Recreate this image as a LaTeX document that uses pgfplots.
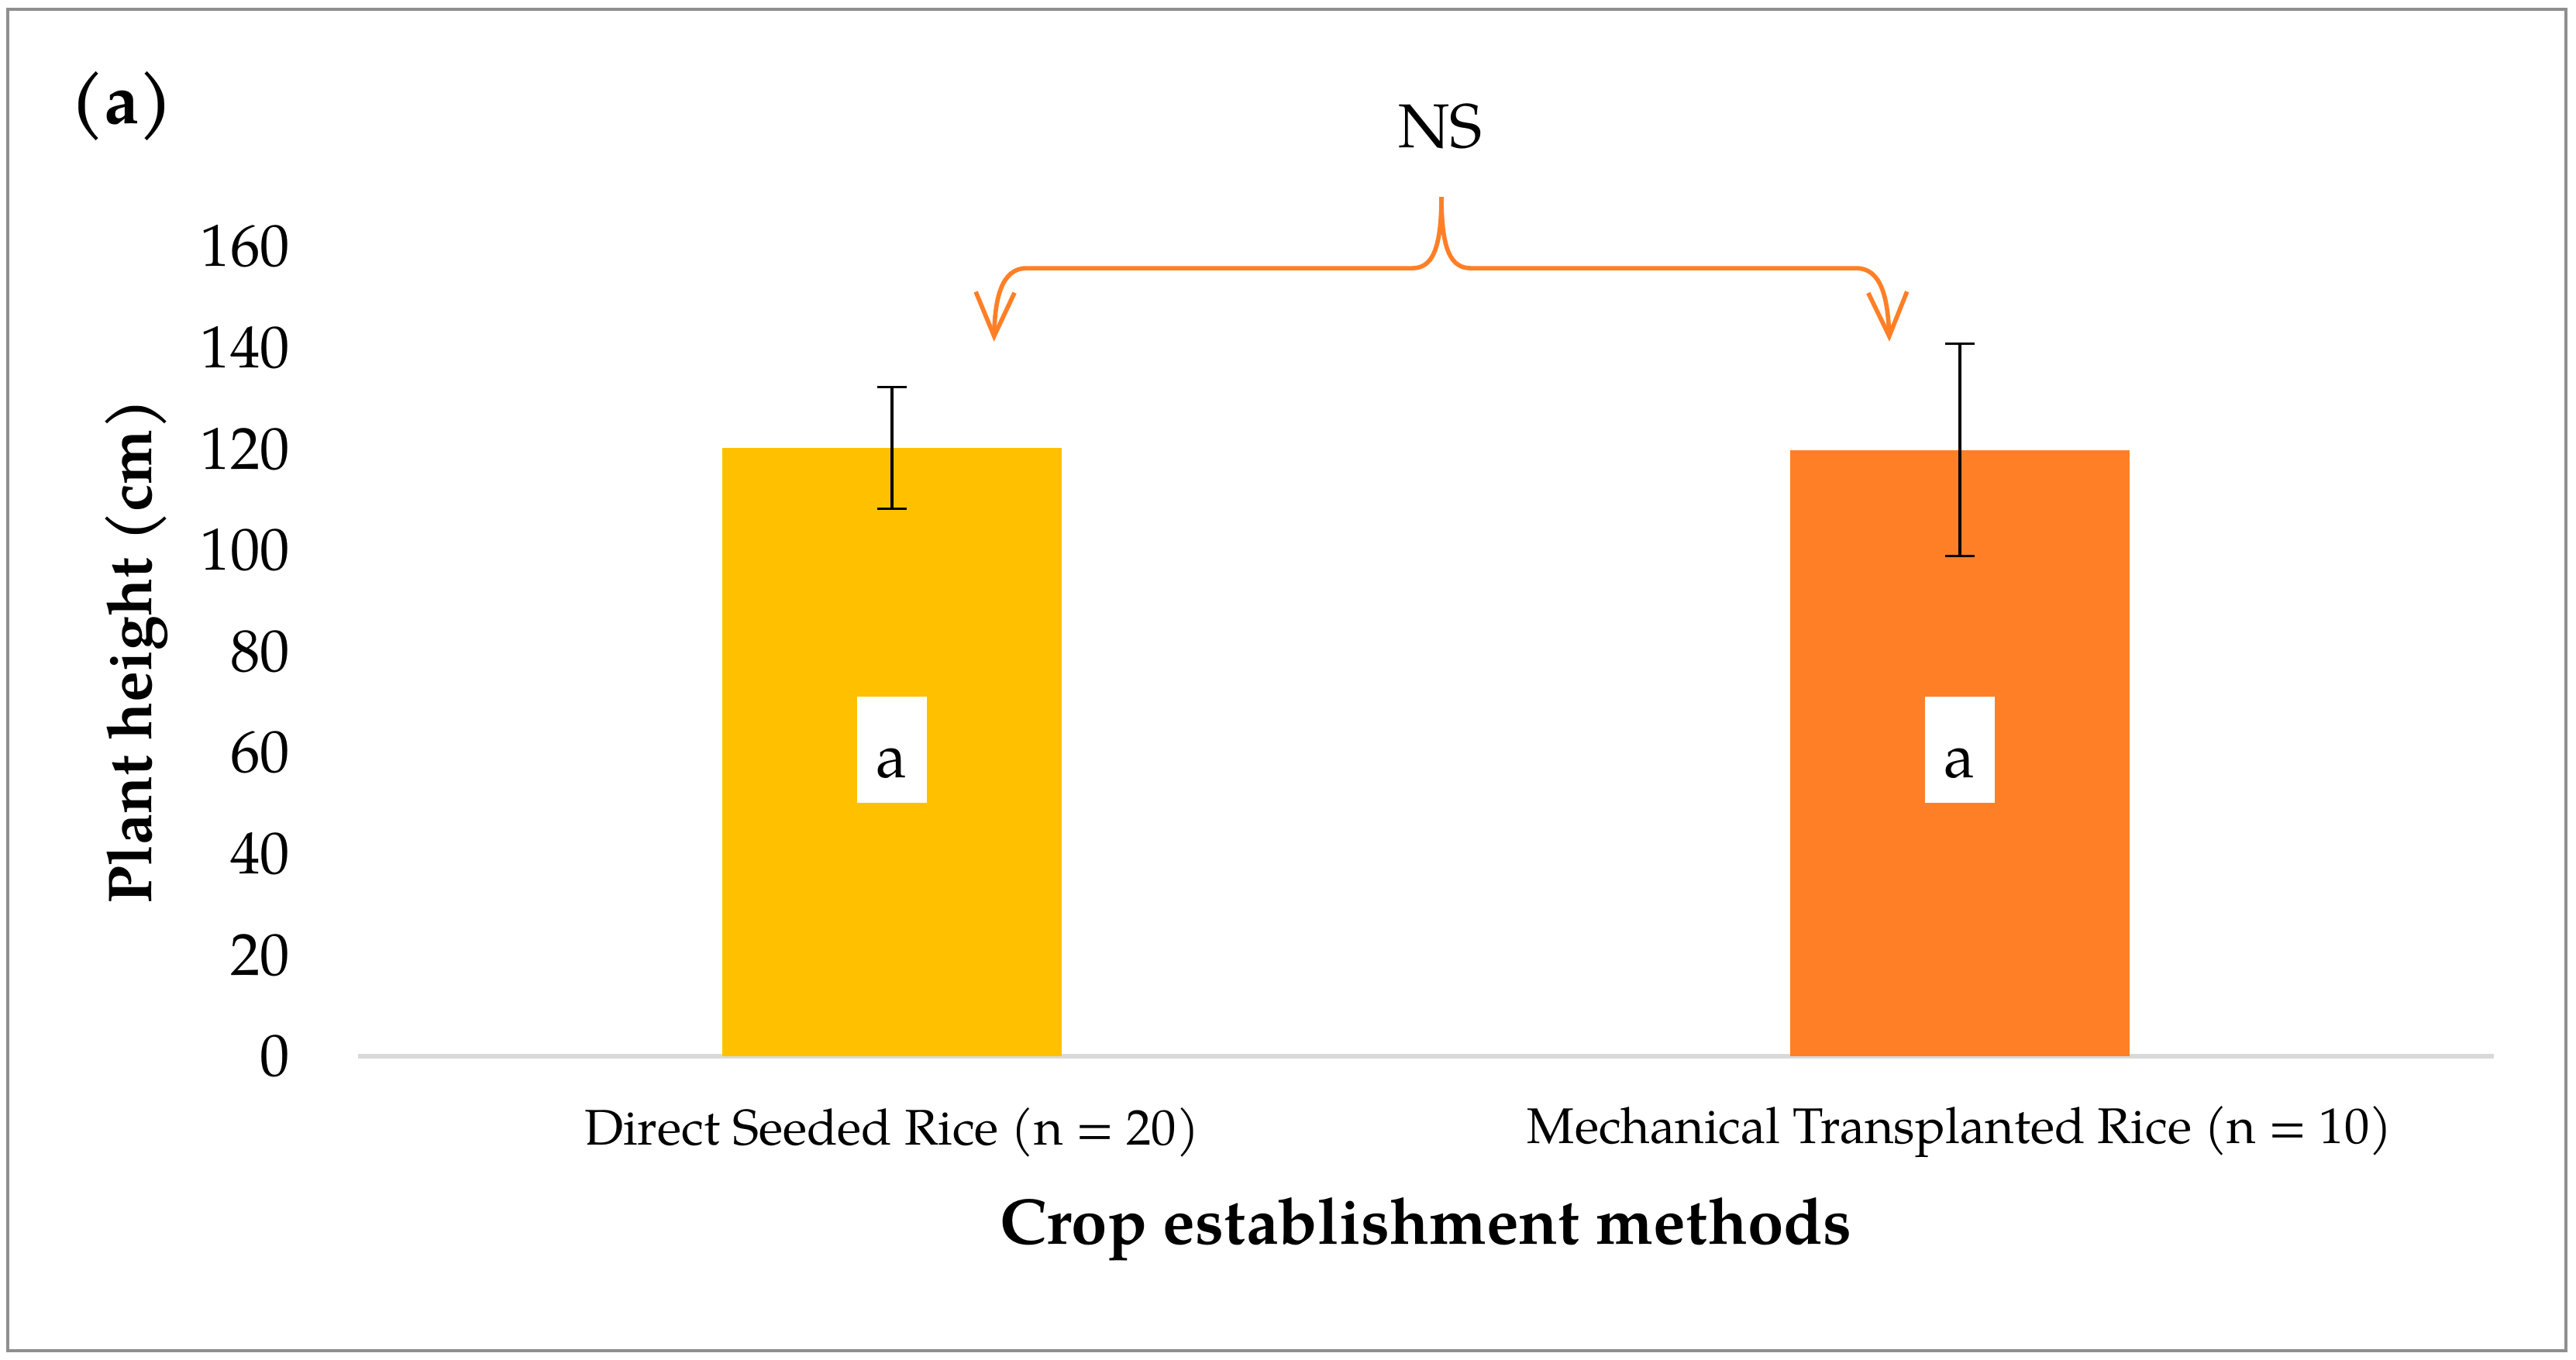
\documentclass[border=0pt]{standalone}
\usepackage{fontspec}
\setmainfont{TeX Gyre Pagella}
\usepackage{pgfplots}
\pgfplotsset{compat=1.18}
\usetikzlibrary{arrows.meta}
\definecolor{baryellow}{HTML}{FFC000}
\definecolor{barorange}{HTML}{FF7F27}
\definecolor{axisgray}{HTML}{D9D9D9}
\definecolor{framegray}{HTML}{8F8F8F}
\begin{document}
\begin{tikzpicture}
\useasboundingbox (0,0) rectangle (498.6pt,263.1pt);
\draw[framegray, line width=0.65pt] (1.5pt,1.65pt) rectangle (496.65pt,261.3pt);
\begin{axis}[
  at={(69.3pt,58.65pt)}, anchor=south west,
  scale only axis, width=413.4pt, height=156.75pt,
  xmin=-0.5, xmax=1.5, ymin=0, ymax=160,
  axis lines=left,
  axis line style={-},
  y axis line style={draw=none},
  x axis line style={draw=axisgray, line width=0.9pt},
  major tick length=0pt,
  tick style={draw=none},
  xtick={0,1},
  xticklabels={Direct Seeded Rice (n = 20), Mechanical Transplanted Rice (n = 10)},
  ytick={0,20,...,160},
  /pgf/number format/assume math mode=true,
  yticklabel style={inner sep=0pt, anchor=east, xshift=-13pt, font=\fontsize{11.5}{12}\selectfont},
  xticklabel style={inner sep=0pt, anchor=center, yshift=-14.7pt, font=\fontsize{9.7}{11}\selectfont},
  xlabel={Crop establishment methods},
  ylabel={Plant height (cm)},
  xlabel style={at={(axis description cs:0.5,-0.2134)}, anchor=center, font=\fontsize{12.5}{14}\selectfont\bfseries},
  ylabel style={at={(axis description cs:-0.1038,0.5)}, anchor=center, rotate=0, font=\fontsize{12}{14}\selectfont\bfseries},
  clip=false,
  ybar, bar width=65.7pt,
]
\addplot[fill=baryellow, draw=none, bar shift=0pt,
  error bars/.cd, y dir=both, y explicit,
  error bar style={black, line width=0.5pt},
  error mark options={rotate=90, mark size=2.85pt, line width=0.5pt, black}]
  coordinates {(0,120.2) +- (0,12)};
\addplot[fill=barorange, draw=none, bar shift=0pt,
  error bars/.cd, y dir=both, y explicit,
  error bar style={black, line width=0.5pt},
  error mark options={rotate=90, mark size=2.85pt, line width=0.5pt, black}]
  coordinates {(1,119.8) +- (0,21)};
% letters
\fill[white] (axis cs:-0.033,50) rectangle (axis cs:0.033,71.1);
\fill[white] (axis cs:0.967,50) rectangle (axis cs:1.033,71.1);
\node[inner sep=0pt, font=\fontsize{12}{14}\selectfont] at (axis cs:0,57.8) {a};
\node[inner sep=0pt, font=\fontsize{12}{14}\selectfont] at (axis cs:1,57.8) {a};
% brace
\draw[barorange, line width=0.85pt, -{Straight Barb[length=8.5pt,width=7.5pt]}]
  (axis cs:0.5145,169.8) .. controls (axis cs:0.5145,159) and (axis cs:0.505,155.7) .. (axis cs:0.487,155.7)
  -- (axis cs:0.126,155.7) .. controls (axis cs:0.103,155.7) and (axis cs:0.0965,150) .. (axis cs:0.0955,141.2);
\draw[barorange, line width=0.85pt, -{Straight Barb[length=8.5pt,width=7.5pt]}]
  (axis cs:0.5145,169.8) .. controls (axis cs:0.5145,159) and (axis cs:0.524,155.7) .. (axis cs:0.542,155.7)
  -- (axis cs:0.903,155.7) .. controls (axis cs:0.926,155.7) and (axis cs:0.9325,150) .. (axis cs:0.934,141.2);
\node[font=\fontsize{12}{14}\selectfont] at (axis cs:0.5135,183.8) {NS};
\node[font=\fontsize{13.5}{15}\selectfont\bfseries] at (axis cs:-0.721,187.7) {(a)};
\end{axis}
\end{tikzpicture}
\end{document}
